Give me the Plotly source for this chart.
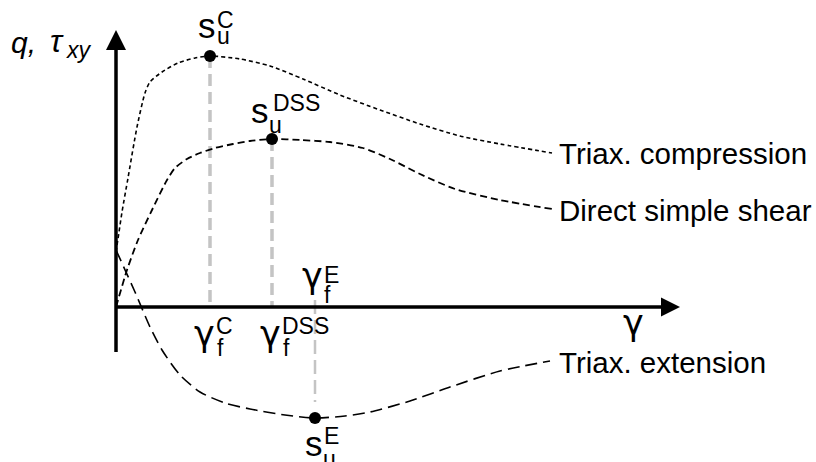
import plotly.graph_objects as go

# Shear strain (gamma) and shear stress (q, tau_xy) in arbitrary units
comp_gamma = [0.0, 0.3, 0.6, 1.2, 2.1, 2.9, 3.4, 4.6, 6.2, 7.9, 9.4, 12.4, 15.4, 18.7, 22.4, 26.4, 30.4, 34.4, 38.4, 43.6]
comp_q     = [5.5, 7.5, 9.5, 12.9, 18.0, 21.4, 22.5, 23.5, 24.4, 24.9, 25.1, 24.8, 24.1, 22.8, 21.2, 19.7, 18.3, 17.1, 16.3, 15.4]

dss_gamma = [0.0, 1.1, 2.2, 3.6, 5.1, 5.9, 7.1, 8.4, 9.9, 11.7, 13.4, 15.6, 18.4, 21.4, 24.7, 27.4, 30.4, 33.9, 38.4, 43.6]
dss_q     = [0.0, 3.7, 6.7, 9.7, 12.7, 13.9, 14.8, 15.4, 15.9, 16.3, 16.6, 16.8, 16.7, 16.5, 15.9, 14.8, 13.3, 11.8, 10.7, 9.8]

ext_gamma = [0.0, 1.9, 3.4, 4.6, 6.4, 8.4, 10.9, 13.4, 16.9, 19.9, 22.9, 25.4, 29.4, 33.4, 38.4, 43.4]
ext_q     = [5.7, 1.5, -2.0, -4.3, -6.8, -8.5, -9.6, -10.2, -10.8, -11.1, -10.9, -10.5, -9.4, -8.0, -6.4, -5.4]

# Peak (undrained strength) points
peak_names = ["C", "DSS", "E"]
peak_gamma = [9.4, 15.6, 19.9]
peak_q     = [25.1, 16.8, -11.1]

curve_labels = ["Triax. compression", "Direct simple shear", "Triax. extension"]

FONT = "Liberation Sans, Arial, sans-serif"
GREEK = "DejaVu Sans, Liberation Sans, sans-serif"
GREY = "#c4c4c4"

fig = go.Figure()

# Guide lines from the peaks to the strain axis
for i, name in enumerate(peak_names):
    if name == "E":
        ys = [0.7, peak_q[i] + 1.6]
        w, dash = 2.5, "14px,6px"
    else:
        ys = [peak_q[i], 0.0]
        w, dash = 3.5, "12px,6px"
    fig.add_trace(go.Scatter(x=[peak_gamma[i]] * 2, y=ys, mode="lines",
                             line=dict(color=GREY, width=w, dash=dash),
                             hoverinfo="skip"))

# Stress-strain curves
styles = [("4px,3px", 1.6), ("7px,4px", 1.8), ("12px,6px", 1.6)]
for (gx, qy), (dash, w) in zip([(comp_gamma, comp_q), (dss_gamma, dss_q), (ext_gamma, ext_q)], styles):
    fig.add_trace(go.Scatter(x=gx, y=qy, mode="lines",
                             line=dict(color="black", width=w, dash=dash, shape="spline", smoothing=0.7),
                             hoverinfo="skip"))

fig.add_trace(go.Scatter(x=peak_gamma, y=peak_q, mode="markers",
                         marker=dict(color="black", size=12), hoverinfo="skip"))

# Axes with arrow heads
x_end, y_end, y_low = 54.5, 25.7, -4.5
fig.add_shape(type="line", x0=0, y0=y_low, x1=0, y1=y_end, line=dict(color="black", width=3.5))
fig.add_shape(type="line", x0=0, y0=0, x1=x_end, y1=0, line=dict(color="black", width=3.5))
fig.add_shape(type="path", path=f"M -1.0 {y_end} L 1.0 {y_end} L 0 {y_end + 2.0} Z",
              fillcolor="black", line=dict(width=0))
fig.add_shape(type="path", path=f"M {x_end} -0.95 L {x_end} 0.95 L {x_end + 1.9} 0 Z",
              fillcolor="black", line=dict(width=0))


def label(text, x, base, size, anchor="center", italic=False, family=FONT):
    fig.add_annotation(x=x, y=base + 0.032 * size, text=text, showarrow=False,
                       xanchor=anchor, yanchor="middle", borderpad=0,
                       font=dict(family=family, size=size, color="black",
                                 style="italic" if italic else "normal"))


MAIN, SUP, SUB, GAM = 35, 23, 23, 35

# s_u labels above / below the peaks
for i, name in enumerate(peak_names):
    gx, qy = peak_gamma[i], peak_q[i]
    if name == "C":
        label("s", gx - 0.35, qy + 1.9, MAIN)
        label(name, gx + 0.6, qy + 2.9, SUP, "left")
        label("u", gx + 0.6, qy + 1.3, SUB, "left")
    elif name == "DSS":
        label("s", gx - 1.2, qy + 1.7, MAIN)
        label(name, gx, qy + 2.9, SUP, "left")
        label("u", gx - 0.4, qy + 0.7, SUB, "left")
    else:
        label("s", gx - 0.15, qy - 3.7, MAIN)
        label(name, gx + 0.8, qy - 2.5, SUP, "left")
        label("u", gx + 0.7, qy - 4.8, SUB, "left")

# gamma_f labels at the failure strains
for i, name in enumerate(peak_names):
    gx = peak_gamma[i]
    if name == "E":
        label("γ", gx - 0.3, 2.0, GAM, family=GREEK)
        label(name, gx + 0.8, 2.5, SUP, "left")
        label("f", gx + 0.8, 0.5, SUB, "left")
    else:
        off = -0.6 if name == "C" else -0.2
        label("γ", gx + off, -3.8, GAM, family=GREEK)
        label(name, gx + off + 1.1, -2.6, SUP, "left")
        label("f", gx + off + 1.2, -4.8, SUB, "left")

# Axis titles
label("γ", 51.7, -2.7, GAM, family=GREEK)
label("q,", -10.6, 25.5, 30, "left", italic=True)
label("τ", -6.7, 25.6, 32, "left", italic=True)
label("xy", -5.1, 25.0, 23, "left", italic=True)

# Curve names at the right ends
label(curve_labels[0], 44.2, 14.4, 29.5, "left")
label(curve_labels[1], 44.2, 8.7, 29.5, "left")
label(curve_labels[2], 44.2, -6.5, 29.5, "left")

fig.update_layout(width=816, height=462, margin=dict(l=0, r=0, t=0, b=0),
                  paper_bgcolor="white", plot_bgcolor="white", showlegend=False,
                  xaxis=dict(range=[-11.6, 70.0], visible=False, fixedrange=True),
                  yaxis=dict(range=[-15.5, 30.7], visible=False, fixedrange=True))

fig.write_html("out.html")
